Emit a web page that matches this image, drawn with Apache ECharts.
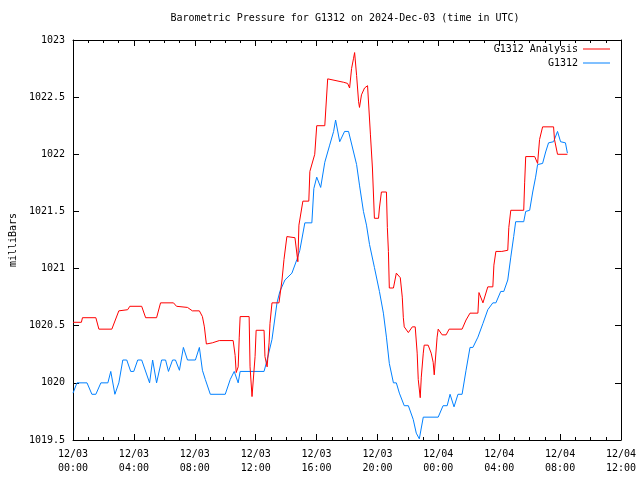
<!DOCTYPE html>
<html>
<head>
<meta charset="utf-8">
<script src="https://cdn.jsdelivr.net/npm/echarts@6/dist/echarts.min.js"></script>
<style>html,body{margin:0;padding:0;background:#fff}#c{width:640px;height:480px}</style>
</head>
<body>
<div id="c"></div>
<script>
// Hours since 12/03 00:00 UTC and pressure (mb)
var analysisHours = [0,0.55,0.62,1.50,1.70,2.55,3.01,3.59,3.73,4.51,4.77,5.49,5.75,6.60,6.80,7.52,7.84,8.30,8.50,8.63,8.76,9.15,9.61,10.52,10.65,10.72,10.85,10.92,10.98,11.57,11.63,11.76,11.96,12.03,12.55,12.61,12.75,12.88,12.94,13.07,13.53,13.73,13.86,14.05,14.58,14.77,14.84,15.10,15.49,15.56,15.88,16.01,16.54,16.73,17.78,18.04,18.17,18.30,18.43,18.50,18.63,18.76,18.82,18.95,19.15,19.35,19.48,19.54,19.67,19.80,20.07,20.13,20.26,20.59,20.65,20.72,20.78,21.05,21.24,21.50,21.63,21.70,21.76,22.03,22.29,22.48,22.61,22.68,22.81,22.88,23.01,23.07,23.33,23.53,23.66,23.73,23.92,23.99,24.25,24.51,24.71,25.56,25.82,26.08,26.60,26.67,26.93,27.25,27.58,27.65,27.78,28.17,28.56,28.63,28.76,29.61,29.67,29.74,30.33,30.52,30.65,30.85,31.57,31.63,31.83,32.48];
var analysisValues = [1020.53,1020.53,1020.57,1020.57,1020.47,1020.47,1020.63,1020.64,1020.67,1020.67,1020.57,1020.57,1020.70,1020.70,1020.67,1020.66,1020.63,1020.63,1020.58,1020.49,1020.34,1020.35,1020.37,1020.37,1020.24,1020.09,1020.14,1020.40,1020.58,1020.58,1020.14,1019.88,1020.23,1020.46,1020.46,1020.23,1020.14,1020.35,1020.52,1020.70,1020.70,1020.90,1021.08,1021.28,1021.27,1021.06,1021.38,1021.59,1021.59,1021.85,1022.00,1022.25,1022.25,1022.66,1022.63,1022.62,1022.58,1022.75,1022.84,1022.89,1022.69,1022.46,1022.41,1022.52,1022.58,1022.60,1022.60,1022.17,1021.88,1021.44,1021.44,1021.53,1021.67,1021.67,1021.36,1021.15,1020.83,1020.83,1020.96,1020.92,1020.75,1020.57,1020.49,1020.44,1020.49,1020.49,1020.26,1020.03,1019.87,1020.05,1020.26,1020.33,1020.33,1020.26,1020.18,1020.07,1020.40,1020.47,1020.42,1020.42,1020.47,1020.47,1020.55,1020.61,1020.61,1020.79,1020.70,1020.84,1020.84,1021.03,1021.15,1021.15,1021.16,1021.36,1021.51,1021.51,1021.75,1021.98,1021.98,1021.92,1022.13,1022.24,1022.24,1022.13,1022.00,1022.00];

var obsHours = [0,0.26,0.92,1.24,1.50,1.83,2.29,2.48,2.75,3.01,3.27,3.53,3.79,3.99,4.25,4.51,5.03,5.23,5.49,5.82,6.08,6.27,6.54,6.73,6.99,7.25,7.52,8.04,8.30,8.50,8.69,9.02,10.00,10.33,10.59,10.85,10.98,12.55,12.75,13.07,13.40,13.59,13.92,14.38,14.71,14.90,15.23,15.69,15.82,16.01,16.27,16.54,16.86,17.12,17.25,17.52,17.84,18.10,18.43,18.63,18.82,19.08,19.28,19.48,19.80,20.13,20.39,20.59,20.78,21.05,21.24,21.44,21.76,22.03,22.35,22.55,22.75,23.01,23.99,24.31,24.58,24.77,25.03,25.29,25.56,25.82,26.08,26.27,26.60,26.93,27.25,27.58,27.78,28.10,28.30,28.56,28.76,28.95,29.08,29.61,29.74,30.00,30.20,30.39,30.52,30.85,31.05,31.24,31.57,31.83,32.03,32.35,32.48];
var obsValues = [1019.91,1020.00,1020.00,1019.90,1019.90,1020.00,1020.00,1020.10,1019.90,1020.00,1020.20,1020.20,1020.10,1020.10,1020.20,1020.20,1020.00,1020.20,1020.00,1020.20,1020.20,1020.10,1020.20,1020.20,1020.11,1020.31,1020.20,1020.20,1020.31,1020.11,1020.03,1019.90,1019.90,1020.03,1020.10,1020.00,1020.10,1020.10,1020.20,1020.38,1020.70,1020.80,1020.90,1020.96,1021.08,1021.16,1021.40,1021.40,1021.70,1021.80,1021.71,1021.93,1022.08,1022.20,1022.30,1022.11,1022.20,1022.20,1022.02,1021.91,1021.73,1021.50,1021.38,1021.21,1021.01,1020.80,1020.61,1020.40,1020.17,1020.00,1020.00,1019.91,1019.80,1019.80,1019.68,1019.56,1019.51,1019.70,1019.70,1019.80,1019.80,1019.90,1019.79,1019.90,1019.90,1020.11,1020.31,1020.31,1020.40,1020.52,1020.64,1020.70,1020.70,1020.80,1020.80,1020.90,1021.10,1021.28,1021.41,1021.41,1021.50,1021.51,1021.67,1021.80,1021.91,1021.92,1022.02,1022.10,1022.11,1022.20,1022.11,1022.10,1022.01];

var dayLabels = ['12/03', '12/04'];
var yTicks = {min: 1019.5, max: 1023, step: 0.5};
var xTicks = {min: 0, max: 36, step: 4};

function pairs(xs, ys) { var o = []; for (var i = 0; i < xs.length; i++) o.push([xs[i], ys[i]]); return o; }
function pad(n) { return (n < 10 ? '0' : '') + n; }

var FONT = 'DejaVu Sans Mono';
var txt = {fontFamily: FONT, fontSize: 10, color: '#000'};
var chart = echarts.init(document.getElementById('c'), null, {renderer: 'canvas'});
var axisCommon = {
  axisLine: {show: true, onZero: false, lineStyle: {color: '#000', width: 1}},
  splitLine: {show: false}
};
chart.setOption({
  animation: false,
  backgroundColor: '#fff',
  title: {
    text: 'Barometric Pressure for G1312 on 2024-Dec-03 (time in UTC)',
    left: 345, top: 13, textAlign: 'center', padding: 0,
    textStyle: {fontFamily: FONT, fontSize: 10, fontWeight: 'normal', color: '#000'}
  },
  legend: [
    {data: ['G1312 Analysis'], right: 30, top: 44, padding: 0, align: 'right', icon: 'rect', itemWidth: 27, itemHeight: 1, itemGap: 0, textStyle: txt, selectedMode: false},
    {data: ['G1312'], right: 30, top: 58, padding: 0, align: 'right', icon: 'rect', itemWidth: 27, itemHeight: 1, itemGap: 0, textStyle: txt, selectedMode: false}
  ],
  grid: {left: 70, right: 19, top: 40, bottom: 40, containLabel: false},
  xAxis: [
    Object.assign({}, axisCommon, {
      type: 'value', min: xTicks.min, max: xTicks.max, interval: xTicks.step, position: 'bottom',
      axisTick: {show: true, inside: true, length: 6, lineStyle: {color: '#000'}},
      minorTick: {show: true, splitNumber: 4, length: 3, lineStyle: {color: '#000'}},
      axisLabel: {fontFamily: FONT, fontSize: 10, color: '#000', margin: 7, lineHeight: 14,
        formatter: function (v) { var d = Math.floor(v / 24); return dayLabels[Math.min(d, 1)] + (d > 1 ? '' : '') + '\n' + pad(v % 24) + ':00'; }}
    }),
    Object.assign({}, axisCommon, {
      type: 'value', min: xTicks.min, max: xTicks.max, interval: xTicks.step, position: 'top',
      axisTick: {show: true, inside: true, length: 6, lineStyle: {color: '#000'}},
      minorTick: {show: true, splitNumber: 4, length: 3, lineStyle: {color: '#000'}},
      axisLabel: {show: false}
    })
  ],
  yAxis: [
    Object.assign({}, axisCommon, {
      type: 'value', min: yTicks.min, max: yTicks.max, interval: yTicks.step, position: 'left',
      name: 'milliBars', nameLocation: 'middle', nameRotate: 90, nameGap: 54,
      nameTextStyle: {fontFamily: FONT, fontSize: 10, color: '#000'},
      axisTick: {show: true, inside: true, length: 6, lineStyle: {color: '#000'}},
      axisLabel: {fontFamily: FONT, fontSize: 10, color: '#000', margin: 8, formatter: function (v) { return String(+v.toFixed(1)); }}
    }),
    Object.assign({}, axisCommon, {
      type: 'value', min: yTicks.min, max: yTicks.max, interval: yTicks.step, position: 'right',
      axisTick: {show: true, inside: true, length: 6, lineStyle: {color: '#000'}},
      axisLabel: {show: false}
    })
  ],
  series: [
    {name: 'G1312 Analysis', type: 'line', color: '#ff0000', showSymbol: false, symbol: 'none',
      lineStyle: {width: 1, color: '#ff0000'}, data: pairs(analysisHours, analysisValues), z: 3},
    {name: 'G1312', type: 'line', color: '#0080ff', showSymbol: false, symbol: 'none',
      lineStyle: {width: 1, color: '#0080ff'}, data: pairs(obsHours, obsValues), z: 2}
  ]
});
</script>
</body>
</html>
